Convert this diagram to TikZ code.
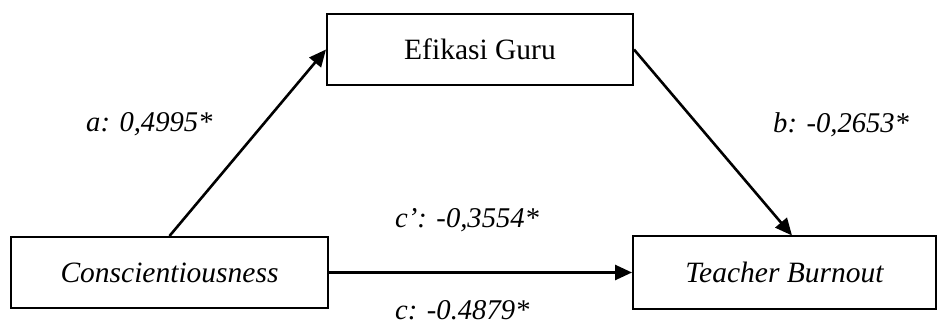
\documentclass[tikz,border=0pt]{standalone}
\usepackage{fontspec}
\setmainfont{Liberation Serif}
\usetikzlibrary{arrows.meta}
\tikzset{
  varbox/.style={draw=black, line width=2pt, fill=white, inner sep=0pt,
    font=\fontsize{29.5}{35}\selectfont},
  path arrow/.style={line width=2.6pt, -{Triangle[length=17pt,width=15pt]}},
  coef/.style={anchor=base west, inner sep=0pt,
    font=\fontsize{28.6}{34}\selectfont\itshape}
}
\begin{document}
\begin{tikzpicture}[x=1pt, y=-1pt]
  \useasboundingbox (0,0) rectangle (939,320);
  % variables
  \node[varbox, minimum width=306pt, minimum height=71pt] (efik) at (480,49.5) {Efikasi Guru};
  \node[varbox, minimum width=317pt, minimum height=71pt] (cons) at (169.5,272.5) {\itshape Conscientiousness};
  \node[varbox, minimum width=303pt, minimum height=72pt] (burn) at (784.5,272.5) {\itshape Teacher Burnout};
  % paths
  \coordinate (burntop) at ([xshift=7.5pt]burn.north);
  \draw[path arrow] (cons.north) -- (efik.west);
  \draw[path arrow] (efik.east) -- (burntop);
  \draw[path arrow] (cons.east) -- (burn.west);
  % coefficients
  \node[coef] (la) at (86,132) {a: 0,4995*};
  \node[coef] (lb) at (773,133) {b: -0,2653*};
  \node[coef] (lcp) at (395,228) {c’: -0,3554*};
  \node[coef] (lc) at (395,319) {c: -0.4879*};
\end{tikzpicture}
\end{document}
